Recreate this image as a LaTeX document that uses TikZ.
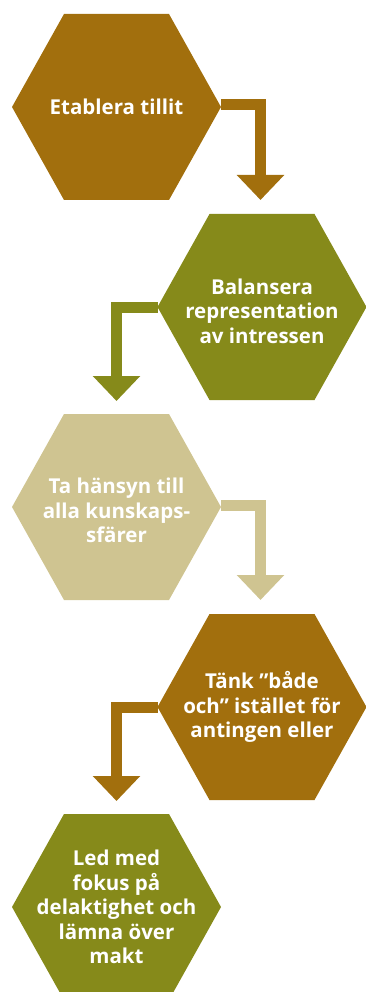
\documentclass[tikz,border=0pt]{standalone}
\usepackage{fontspec}
\setmainfont{Open Sans}
\usetikzlibrary{positioning,arrows.meta,backgrounds}
\definecolor{ochre}{HTML}{A26F0D}
\definecolor{moss}{HTML}{868A1A}
\definecolor{sand}{HTML}{CFC491}
\tikzset{
  hexbox/.style ={minimum width=209pt, minimum height=186pt, inner sep=0pt, outer sep=0pt},
  hextext/.style={text=white, font=\bfseries\fontsize{20.5}{24.5}\selectfont, align=center},
  flow/.style   ={line width=11pt, -{Triangle[width=46pt,length=25pt]}},
}
% hexagon drawn round a rectangular node (#1 = node, #2 = colour)
\newcommand{\hexfill}[2]{%
  \fill[#2] (#1.west) -- ([xshift=52pt]#1.north west) -- ([xshift=-52pt]#1.north east)
    -- (#1.east) -- ([xshift=-52pt]#1.south east) -- ([xshift=52pt]#1.south west) -- cycle;}

\begin{document}
\begin{tikzpicture}[x=1pt, y=-1pt]

\useasboundingbox (0,0) rectangle (366,992);
\clip (0,0) rectangle (366,992);

%--- Steps ---
\node[hexbox, hextext] (h1) at (116.5,107) {Etablera tillit};
\node[hexbox, hextext] (h2) at (262,307) {\\[-1pt]Balansera\\representation\\av intressen};
\node[hexbox, hextext] (h3) at (116.5,507) {\\[-2pt]Ta hänsyn till\\alla kunskaps-\\sfärer};
\node[hexbox, hextext] (h4) at (262,707) {Tänk ”både\\och” istället för\\antingen eller};
\node[hexbox, hextext] (h5) at (116.5,907) {Led med\\fokus på\\delaktighet och\\lämna över\\makt};

\begin{scope}[on background layer]
  \hexfill{h1}{ochre}
  \hexfill{h2}{moss}
  \hexfill{h3}{sand}
  \hexfill{h4}{ochre}
  \hexfill{h5}{moss}

  %--- Elbow arrows between the steps ---
  \draw[flow, ochre] ([yshift=2pt]h1.east) -| ([xshift=-1.5pt,yshift=14pt]h2.north);
  \draw[flow, moss]  (h2.west) -| ([yshift=13pt]h3.north);
  \draw[flow, sand]  ([yshift=2pt]h3.east) -| ([xshift=-1.5pt,yshift=14pt]h4.north);
  \draw[flow, ochre] (h4.west) -| ([yshift=13pt]h5.north);
\end{scope}

\end{tikzpicture}
\end{document}
